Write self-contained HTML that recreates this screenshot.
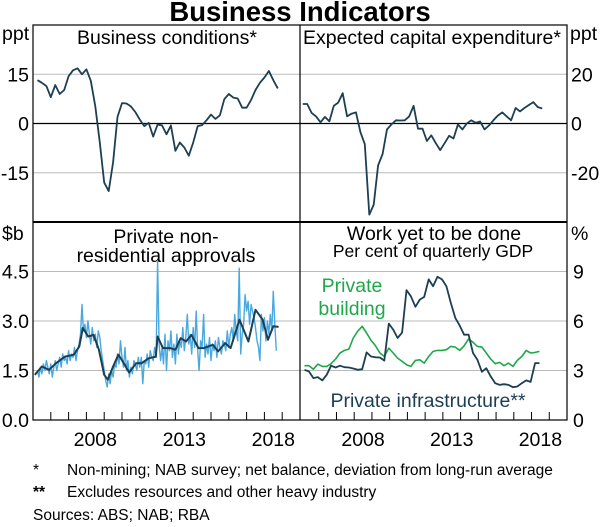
<!DOCTYPE html>
<html><head><meta charset="utf-8">
<style>
html,body{margin:0;padding:0;background:#fff;}
svg{display:block;font-family:"Liberation Sans",Arial,sans-serif;}
</style></head>
<body>
<svg id="chart" width="600" height="527" viewBox="0 0 600 527" xmlns="http://www.w3.org/2000/svg">
<text x="300" y="21" text-anchor="middle" font-size="27.5" font-weight="bold">Business Indicators</text>
<g id="grid"></g>
<g id="series"></g>
<g id="frame"></g>
<g id="labels">
<text x="167" y="44" text-anchor="middle" font-size="19.5">Business conditions*</text>
<text x="432" y="44" text-anchor="middle" font-size="19.5">Expected capital expenditure*</text>
<text x="2" y="40" font-size="19.5">ppt</text>
<text x="570" y="40" font-size="19.5">ppt</text>
<text x="2" y="240" font-size="19.5">$b</text>
<text x="571" y="240" font-size="19.5">%</text>
<text x="166" y="243" text-anchor="middle" font-size="19.5">Private non-</text>
<text x="166" y="262" text-anchor="middle" font-size="19.5">residential approvals</text>
<text x="434" y="240" text-anchor="middle" font-size="19.5">Work yet to be done</text>
<text x="433" y="257" text-anchor="middle" font-size="17.5">Per cent of quarterly GDP</text>
<text x="352" y="292" text-anchor="middle" font-size="19.5" fill="#1fa84a">Private</text>
<text x="352" y="315" text-anchor="middle" font-size="19.5" fill="#1fa84a">building</text>
<text x="428" y="407" text-anchor="middle" font-size="19.5" fill="#1c3f52">Private infrastructure**</text>
<text x="33" y="475" font-size="15.5">*</text>
<text x="67" y="475" font-size="15.5">Non-mining; NAB survey; net balance, deviation from long-run average</text>
<text x="33" y="497" font-size="15.5" font-weight="bold">**</text>
<text x="67" y="497" font-size="15.5">Excludes resources and other heavy industry</text>
<text x="33" y="520" font-size="15.5">Sources: ABS; NAB; RBA</text>
</g>
</svg>
<script>
const bizStart = 2005.25;
const bizValues = [13.2,12.4,11.4,8,11.7,9,10.2,14.4,16.2,16.8,15,16.5,13,5.2,-5.8,-18,-20.6,-11.8,2,6.2,6.1,5.2,3.5,1.2,-0.8,0.2,-4,-0.3,-0.6,-3.3,-0.6,-8.3,-5.8,-7.3,-9.8,-5.8,-0.8,-0.5,1,2.7,1.4,2.5,7.4,9,7.9,7.6,4.8,4.8,7.2,10.2,12.4,14,16,13.2,10.7];
const capexStart = 2005.1;
const capexValues = [7.9,7.9,4.3,2.9,0.5,2.7,0.9,7.2,8.5,12.3,2.9,4,4.5,-3.5,-8.4,-37,-33,-17,-12.4,-2.4,-0.4,1.3,1.2,1.3,2.9,7.2,-2.1,-2.1,-7.1,-4.8,-8,-10.8,-8,-5,-6.1,-0.4,-2.4,0,1.3,0.3,0.8,-2.4,-0.8,1.3,3.2,4.5,2.9,1.3,6.3,4.9,6.3,7.5,8.7,6.7,6.1];
const apprStart = 2005.25;
const apprMonthly = [1.5,1.3,1.6,1.4,1.7,1.5,1.8,1.6,1.4,
1.7,1.3,1.6,1.8,1.5,1.7,1.9,1.6,2.0,1.8,1.9,1.7,
2.1,1.8,2.0,1.9,2.2,1.8,2.1,2.3,2.6,3.5,2.7,2.9,
2.5,3.0,2.6,2.3,2.8,2.4,2.6,2.2,2.7,2.5,2.1,1.8,
1.5,1.2,1.0,1.4,1.1,1.5,1.3,1.7,1.6,2.0,1.7,2.4,
1.9,1.6,2.2,1.5,1.8,1.3,1.6,1.4,1.8,1.7,1.5,1.9,
1.6,1.9,1.1,1.8,1.7,2.0,1.6,2.1,1.9,1.8,2.2,1.9,
4.8,2.3,1.8,2.2,1.7,2.6,1.5,2.4,2.1,2.7,1.9,2.3,
1.7,2.6,2.0,2.4,2.2,2.8,2.1,2.5,3.2,2.3,2.6,2.0,
2.8,2.2,3.3,2.1,1.5,2.4,2.2,3.2,1.9,2.3,2.0,2.5,
1.8,2.3,2.1,2.4,1.9,2.5,2.2,2.0,2.4,2.3,2.1,2.7,
2.2,2.6,2.8,2.4,3.2,2.7,2.4,4.6,2.0,2.6,2.9,3.8,
3.3,3.6,2.9,3.5,3.3,3.1,2.8,2.4,2.2,1.8,3.2,2.7,
3.1,2.4,3.0,2.6,3.2,2.7,3.9,2.9,2.1];
const trendYears = [2005.1,2005.5,2005.9,2006.3,2006.8,2007.3,2007.6,2007.8,2008.1,2008.4,2008.7,2009.0,2009.2,2009.5,2009.8,2010.1,2010.4,2010.8,2011.1,2011.5,2011.9,2012.0,2012.3,2012.7,2013.0,2013.3,2013.6,2013.9,2014.3,2014.6,2015.1,2015.4,2015.8,2016.1,2016.6,2017.1,2017.5,2017.9,2018.2,2018.5,2018.8];
const trendValues = [1.37,1.62,1.52,1.72,1.92,1.98,2.23,2.79,2.53,2.58,2.13,1.37,1.22,1.62,1.98,1.72,1.44,1.72,1.72,1.87,1.92,2.53,2.18,2.18,2.13,2.48,2.38,2.58,2.18,2.18,2.28,2.08,2.33,2.18,3.04,2.38,3.34,3.04,2.43,2.84,2.82];
const workStart = 2005.2;
const infraValues = [3.04,2.94,2.54,2.6,2.4,2.74,3.29,3.18,3.29,3.2,3.18,3.12,3.04,3.08,4.1,3.85,3.8,3.79,3.6,5.84,5.48,4.97,5.3,7.87,7.5,6.86,7.3,7.46,8.52,8.11,8.68,8.52,8.11,7.1,6.19,5.72,5.17,5.17,4.06,3.65,2.92,3.14,2.64,2.23,2.13,2.17,2.13,1.99,2.03,2.23,2.4,2.31,3.45,3.45];
const buildingValues = [3.29,3.29,3.08,3.39,3.25,3.25,3.41,3.69,4.06,4.22,4.3,4.97,5.38,5.68,5.27,4.83,4.5,4.06,3.85,4.36,4.06,3.75,3.55,3.35,3.25,3.61,3.65,3.45,3.85,4.16,4.22,4.22,4.26,4.46,4.42,4.22,4.5,4.91,4.71,4.46,4.42,4.06,3.69,3.41,3.49,3.29,3.45,3.25,3.61,3.85,4.22,4.06,4.1,4.16];
const topLeftTicks = ["15","0","-15"]; const topLeftTickVals=[15,0,-15];
const topRightTicks = ["20","0","-20"]; const topRightTickVals=[20,0,-20];
const botLeftTicks = ["4.5","3.0","1.5","0.0"]; const botLeftTickVals=[4.5,3,1.5,0];
const botRightTicks = ["9","6","3","0"]; const botRightTickVals=[9,6,3,0];
const yearLabels = ["2008","2013","2018"]; const yearLabelVals=[2008,2013,2018];

const NS="http://www.w3.org/2000/svg";
const L=33,M=300,R=567,T=25,MID=222,B=420;
function xL(y){return L+(y-2005)*(M-L)/15;}
function xR(y){return M+1+(y-2005)*(R-M-1)/15;}
function yTL(v){return T+(30-v)*(MID-T)/60;}
function yTR(v){return T+(40-v)*(MID-T)/80;}
function yBL(v){return B-v*(B-MID)/6;}
function yBR(v){return B-v*(B-MID)/12;}
function mk(tag,attrs,parent){const e=document.createElementNS(NS,tag);for(const k in attrs)e.setAttribute(k,attrs[k]);parent.appendChild(e);return e;}
const grid=document.getElementById('grid'),ser=document.getElementById('series'),frame=document.getElementById('frame'),lab=document.getElementById('labels');
const FS=19.5, OFF=7;
function hline(x1,x2,y,col,w,name){const l=mk('line',{x1:x1,x2:x2,y1:y,y2:y,stroke:col,'stroke-width':w},grid);

}
topLeftTickVals.forEach((v,i)=>{hline(L,M,yTL(v),v===0?'#000':'#bbb',v===0?1.2:1,'gridline-tl');
const t=mk('text',{x:29,y:yTL(v)+OFF,'text-anchor':'end','font-size':FS},lab);t.textContent=topLeftTicks[i];

});
topRightTickVals.forEach((v,i)=>{hline(M,R,yTR(v),v===0?'#000':'#bbb',v===0?1.2:1,'gridline-tr');
const t=mk('text',{x:571,y:yTR(v)+OFF,'font-size':FS},lab);t.textContent=topRightTicks[i];

});
botLeftTickVals.forEach((v,i)=>{if(v>0)hline(L,M,yBL(v),'#bbb',1,'gridline-bl');
const t=mk('text',{x:29,y:yBL(v)+OFF,'text-anchor':'end','font-size':FS},lab);t.textContent=botLeftTicks[i];

});
botRightTickVals.forEach((v,i)=>{if(v>0)hline(M,R,yBR(v),'#bbb',1,'gridline-br');
const t=mk('text',{x:573,y:yBR(v)+OFF,'font-size':FS},lab);t.textContent=botRightTicks[i];

});
for(let yr=2006;yr<=2019;yr++){
 const a=mk('line',{x1:xL(yr),x2:xL(yr),y1:B,y2:B-8,stroke:'#000','stroke-width':1},frame);
 
 
 const b=mk('line',{x1:xR(yr),x2:xR(yr),y1:B,y2:B-8,stroke:'#000','stroke-width':1},frame);
 
 
}
yearLabelVals.forEach((yr,i)=>{
 const a=mk('text',{x:xL(yr+0.5),y:446,'text-anchor':'middle','font-size':FS},lab);a.textContent=yearLabels[i];
 
 
 const b=mk('text',{x:xR(yr+0.5),y:446,'text-anchor':'middle','font-size':FS},lab);b.textContent=yearLabels[i];
 
 
});
function path(xs,ys,col,w,name){const d=xs.map((x,i)=>(i?'L':'M')+x.toFixed(1)+','+ys[i].toFixed(1)).join('');
const p=mk('path',{d:d,fill:'none',stroke:col,'stroke-width':w,'stroke-linejoin':'round'},ser);

}
path(bizValues.map((v,i)=>xL(bizStart+i*0.25)),bizValues.map(yTL),'#1c3f52',1.8,'business-conditions-line');
path(capexValues.map((v,i)=>xR(capexStart+i*0.25)),capexValues.map(yTR),'#1c3f52',1.8,'capex-line');
path(apprMonthly.map((v,i)=>xL(apprStart+i/12)),apprMonthly.map(yBL),'#4aa8e0',1.4,'approvals-monthly-line');
path(trendYears.map(xL),trendValues.map(yBL),'#1c3f52',2,'approvals-trend-line');
path(buildingValues.map((v,i)=>xR(workStart+i*0.25)),buildingValues.map(yBR),'#1fa84a',1.6,'private-building-line');
path(infraValues.map((v,i)=>xR(workStart+i*0.25)),infraValues.map(yBR),'#1c3f52',1.8,'private-infrastructure-line');
const fr=mk('rect',{x:L,y:T,width:R-L,height:B-T,fill:'none',stroke:'#000','stroke-width':1.2},frame);


const vd=mk('line',{x1:M,x2:M,y1:T,y2:B,stroke:'#000','stroke-width':1.2},frame);


const hd=mk('line',{x1:L,x2:R,y1:MID,y2:MID,stroke:'#000','stroke-width':2},frame);


</script>
</body></html>
